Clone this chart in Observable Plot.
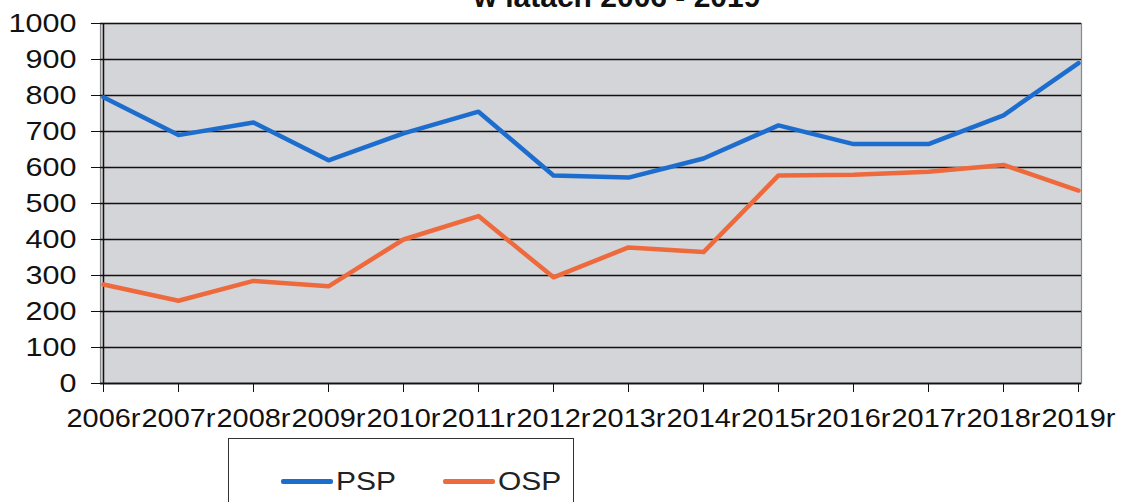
<!DOCTYPE html>
<html>
<head>
<meta charset="utf-8">
<script src="https://cdn.jsdelivr.net/npm/d3@7"></script>
<script src="https://cdn.jsdelivr.net/npm/@observablehq/plot@0.6"></script>
<style>
  html, body { margin: 0; padding: 0; background: #fff; }
  #wrap { width: 1125px; height: 502px; overflow: hidden; position: relative; font-family: "Liberation Sans", Arial, sans-serif; }
  #title { height: 12px; overflow: hidden; position: relative; }
  #title div { position: absolute; bottom: 0; left: 0; width: 1234px; text-align: center; font: bold 30px "Liberation Sans", Arial, sans-serif; line-height: 30px; color: #111; }
  #legend { position: relative; margin-left: 228px; width: 346px; height: 90px; border: 1.5px solid #333; border-bottom: none; box-sizing: border-box; }
  .li { position: absolute; top: 27px; display: flex; align-items: center; font-size: 26px; color: #222; }
  .li span.sw { display: inline-block; width: 52px; height: 5px; border-radius: 2px; margin-right: 3px; }
</style>
</head>
<body>
<div id="wrap">
  <div id="title"><div>w latach 2006 - 2019</div></div>
  <div id="chart"></div>
  <div id="legend"></div>
</div>
<script>
const years = [2006, 2007, 2008, 2009, 2010, 2011, 2012, 2013, 2014, 2015, 2016, 2017, 2018, 2019];
const psp = [795, 690, 725, 620, 695, 755, 578, 572, 625, 717, 665, 665, 745, 890];
const osp = [275, 230, 285, 270, 400, 465, 295, 378, 365, 578, 580, 588, 607, 536];
const seriesNames = ["PSP", "OSP"];
const seriesColors = ["#1d6dcf", "#ee6a3d"];
const yTicks = [0, 100, 200, 300, 400, 500, 600, 700, 800, 900, 1000];

const data = [];
years.forEach((y, i) => {
  data.push({year: y, value: psp[i], series: seriesNames[0]});
  data.push({year: y, value: osp[i], series: seriesNames[1]});
});

const chart = Plot.plot({
  width: 1125,
  height: 426,
  marginLeft: 100,
  marginRight: 44,
  marginTop: 11,
  marginBottom: 55,
  style: {fontFamily: "'Liberation Sans', Arial, sans-serif", fontSize: "26px", color: "#111", background: "transparent"},
  x: {type: "point", domain: years, padding: 0, label: null},
  y: {domain: [0, 1000], label: null},
  color: {domain: seriesNames, range: seriesColors},
  marks: [
    Plot.frame({fill: "#d4d5d9", stroke: "#888", strokeWidth: 1.2}),
    Plot.gridY(yTicks, {stroke: "#111", strokeOpacity: 1, strokeWidth: 1.3}),
    Plot.ruleX([years[0]], {stroke: "#111", strokeWidth: 1.5}),
    Plot.ruleY([0], {stroke: "#111", strokeWidth: 1.5}),
    Plot.axisY({ticks: yTicks, tickSize: 9, tickPadding: 15, tickFormat: d => String(d), fontSize: 26, stroke: "#111", label: null}),
    Plot.axisX({tickSize: 9, tickPadding: 16, tickFormat: d => d + "r", fontSize: 26, stroke: "#111", label: null}),
    Plot.line(data, {x: "year", y: "value", z: "series", stroke: "series", strokeWidth: 4.5, strokeLinejoin: "round"})
  ]
});
document.getElementById("chart").appendChild(chart);

// slightly stretched lettering, as in the scanned original
d3.select(chart).selectAll('g[aria-label="x-axis tick label"] text')
  .attr("textLength", 74).attr("lengthAdjust", "spacingAndGlyphs");
d3.select(chart).selectAll('g[aria-label="y-axis tick label"] text')
  .each(function() {
    const t = d3.select(this).text();
    d3.select(this).attr("textLength", t.length * 17).attr("lengthAdjust", "spacingAndGlyphs");
  });

const legend = document.getElementById("legend");
const legendLeft = [52, 214];
seriesNames.forEach((name, i) => {
  const item = document.createElement("div");
  item.className = "li";
  item.style.left = legendLeft[i] + "px";
  item.innerHTML = `<span class="sw" style="background:${seriesColors[i]}"></span><span style="display:inline-block;transform:scaleX(1.15);transform-origin:left">${name}</span>`;
  legend.appendChild(item);
});
</script>
</body>
</html>
